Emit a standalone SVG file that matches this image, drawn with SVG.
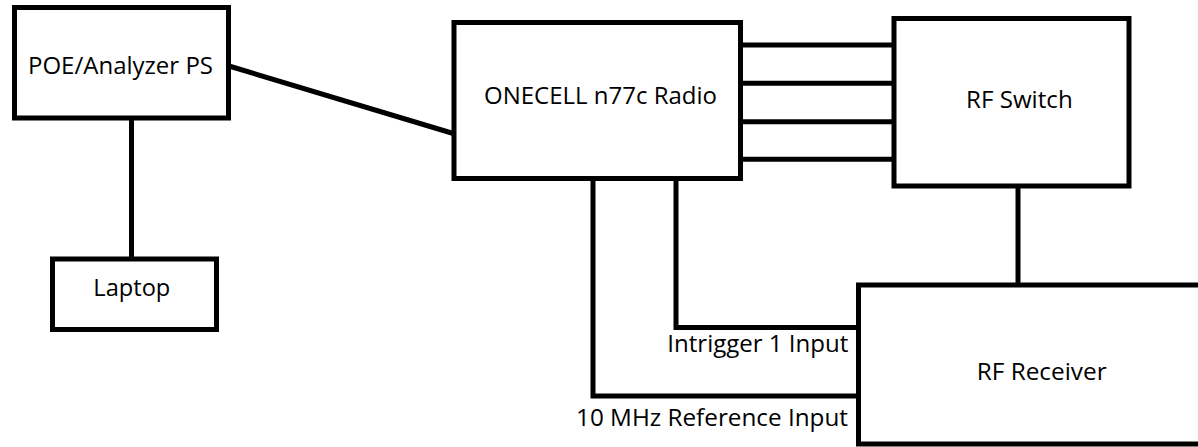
<svg xmlns="http://www.w3.org/2000/svg" width="1198" height="447" viewBox="0 0 1198 447">
<style>
.box{fill:#fff;stroke:#000;stroke-width:5}
.wire{fill:none;stroke:#000;stroke-width:5;stroke-linecap:butt;stroke-linejoin:miter}
.lbl{font-family:"Open Sans","Liberation Sans",Arial,sans-serif;font-size:23px;fill:#000}
</style>
<rect width="1198" height="447" fill="#fff"/>
<g id="connectors">
<line class="wire" x1="229" y1="66" x2="455" y2="134"/>
<line class="wire" x1="131.5" y1="118" x2="131.5" y2="259"/>
<line class="wire" x1="740" y1="45" x2="894" y2="45"/>
<line class="wire" x1="740" y1="83.3" x2="894" y2="83.3"/>
<line class="wire" x1="740" y1="121.7" x2="894" y2="121.7"/>
<line class="wire" x1="740" y1="159.3" x2="894" y2="159.3"/>
<line class="wire" x1="1018" y1="186" x2="1018" y2="285"/>
<polyline class="wire" points="676,178.5 676,327.5 858.5,327.5"/>
<polyline class="wire" points="593,178.5 593,396 858.5,396"/>
<text class="lbl" x="667.3" y="351.7" textLength="181" lengthAdjust="spacingAndGlyphs">Intrigger 1 Input</text>
<text class="lbl" x="576" y="426" textLength="272" lengthAdjust="spacingAndGlyphs">10 MHz Reference Input</text>
</g>
<g id="poe">
<rect class="box" x="14.5" y="7.5" width="214" height="110.5"/>
<text class="lbl" x="28" y="74" textLength="185" lengthAdjust="spacingAndGlyphs">POE/Analyzer PS</text>
</g>
<g id="laptop">
<rect class="box" x="52.5" y="259" width="164" height="70.5"/>
<text class="lbl" x="93.3" y="296" textLength="77" lengthAdjust="spacingAndGlyphs">Laptop</text>
</g>
<g id="radio">
<rect class="box" x="454" y="22.5" width="286.5" height="156"/>
<text class="lbl" x="484" y="104" textLength="233" lengthAdjust="spacingAndGlyphs">ONECELL n77c Radio</text>
</g>
<g id="rfswitch">
<rect class="box" x="894" y="18.5" width="235" height="167.5"/>
<text class="lbl" x="966" y="108.3" textLength="106.7" lengthAdjust="spacingAndGlyphs">RF Switch</text>
</g>
<g id="rfreceiver">
<rect class="box" x="858.5" y="285" width="360" height="159"/>
<text class="lbl" x="976.7" y="380" textLength="130" lengthAdjust="spacingAndGlyphs">RF Receiver</text>
</g>
</svg>
